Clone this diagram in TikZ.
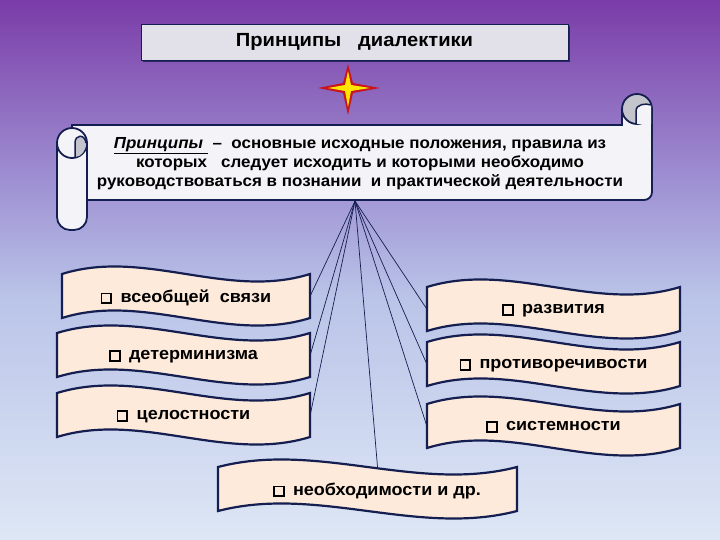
\documentclass[tikz,border=0pt]{standalone}
\usepackage{fontspec}
\setmainfont{Liberation Sans}
\newfontfamily\shirokij[FakeStretch=1.06]{Liberation Sans}
\usetikzlibrary{shadows}

\definecolor{navy}{RGB}{20,30,80}
\definecolor{bannerfill}{RGB}{253,234,218}
\definecolor{scrollfill}{RGB}{243,243,248}
\definecolor{rollgray}{RGB}{196,196,204}
\definecolor{titlefill}{RGB}{226,224,232}
\definecolor{fonbot}{RGB}{222,231,245}
\definecolor{fonlow}{RGB}{186,196,232}
\definecolor{fonmid}{RGB}{160,148,212}
\definecolor{fontop}{RGB}{122,60,168}
\definecolor{starred}{RGB}{200,20,30}
\definecolor{staryellow}{RGB}{255,230,0}

\pgfdeclareverticalshading{fonshade}{100bp}{color(0bp)=(fonbot); color(25bp)=(fonbot); color(47.5bp)=(fonlow); color(57.5bp)=(fonmid); color(75bp)=(fontop); color(100bp)=(fontop)}

\newcommand{\kvadrat}{{\setlength{\fboxsep}{0pt}\setlength{\fboxrule}{1.7pt}\fbox{\rule{0pt}{8pt}\rule{8pt}{0pt}}}\hspace{0.5em}}

% banner: [text shift], name, x, y, width, text
\newcommand{\volna}[6][0pt]{%
  \draw[bannerline] (#3-#5/2,#4-22) .. controls +(#5/3,-26) and +(-#5/3,26) .. (#3+#5/2,#4-22)
    -- (#3+#5/2,#4+22) .. controls +(-#5/3,26) and +(#5/3,-26) .. (#3-#5/2,#4+22) -- cycle;
  \node[bannertext, minimum width=#5pt] (#2) at (#3,#4) {\hspace*{#1}\kvadrat#6};}

\begin{document}
\begin{tikzpicture}
[
    x=1pt, y=-1pt,
    titlebox/.style={draw=navy, line width=0.8pt, fill=titlefill, minimum width=427pt, minimum height=36pt,
        drop shadow={shadow xshift=2pt, shadow yshift=-2pt, fill=navy, opacity=0.8},
        font=\shirokij\bfseries\fontsize{19}{21}\selectfont},
    scrollline/.style={draw=navy, line width=1.8pt, fill=scrollfill},
    deftext/.style={align=center, font=\shirokij\bfseries\fontsize{16}{19}\selectfont},
    bannerline/.style={draw=navy, line width=2.2pt, fill=bannerfill},
    bannertext/.style={inner sep=0pt, minimum height=44pt, text depth=0pt, font=\shirokij\bfseries\fontsize{17}{19}\selectfont},
    fan/.style={draw=navy, line width=0.7pt},
]
    \useasboundingbox (0,0) rectangle (720,540);
    \fill[shading=fonshade] (0,0) rectangle (720,540);

    % title
    \node[titlebox] (titul) at (354.5,42) {Принципы\ \ \ диалектики};

    % star
    \fill[starred] (348,64) -- (353,83) -- (380,88) -- (353,93) -- (348,115) -- (343,93) -- (318,88) -- (343,83) -- cycle;
    \fill[staryellow] (348,71) -- (351,85) -- (370,88) -- (351,91) -- (348,107) -- (345,91) -- (328,88) -- (345,85) -- cycle;

    % scroll
    \filldraw[scrollline] (72,125) -- (622,125) -- (622,109) -- (652,109) -- (652,192)
        arc[start angle=0, end angle=90, radius=8] -- (72,200) -- cycle;
    \filldraw[scrollline, fill=rollgray] (637,109) circle[radius=15];
    \fill[scrollfill] (636,124) -- (636,111) .. controls (636,104) and (646,103) .. (651,105) -- (651,124) -- cycle;
    \draw[navy, line width=1.5pt] (636,124) -- (636,111) .. controls (636,104) and (646,103) .. (651,105);
    \filldraw[scrollline, rounded corners=13pt] (57,143) -- (57,230) -- (87,230) -- (87,143);
    \filldraw[scrollline] (72,143) circle[radius=15];
    \fill[rollgray] (75,157) -- (75,143) .. controls (75,134) and (85,134) .. (86,143) .. controls (86,151) and (81,157) .. (75,157) -- cycle;
    \draw[navy, line width=1.5pt] (75,158) -- (75,143) .. controls (75,134) and (85,134) .. (86,143);

    \node[deftext] (opred) at (360,164) {\underline{\textit{Принципы }}~– \ основные исходные положения, правила из\\
        которых\ \ \ следует исходить и которыми необходимо\\
        руководствоваться в познании\ \ и практической деятельности};
    \coordinate (fan) at (355,201);

    % banners
    \volna{svyaz}{186}{296}{248}{всеобщей\ \ связи}
    \volna{determ}{183.5}{355}{253}{детерминизма}
    \volna{celost}{183.5}{415}{253}{целостности}
    \volna{razvit}{553.5}{309}{253}{развития}
    \volna{protiv}{553.5}{364}{253}{противоречивости}
    \volna{sistem}{553.5}{426}{253}{системности}
    \volna[19pt]{neobh}{367.5}{489}{299}{необходимости и др.}

    % connectors
    \draw[fan] (fan) -- (svyaz.east);
    \draw[fan] (fan) -- (determ.east);
    \draw[fan] (fan) -- (celost.east);
    \draw[fan] (fan) -- (razvit.west);
    \draw[fan] (fan) -- (protiv.west);
    \draw[fan] (fan) -- (sistem.west);
    \draw[fan] (fan) -- ([xshift=10pt]neobh.north);
\end{tikzpicture}
\end{document}
